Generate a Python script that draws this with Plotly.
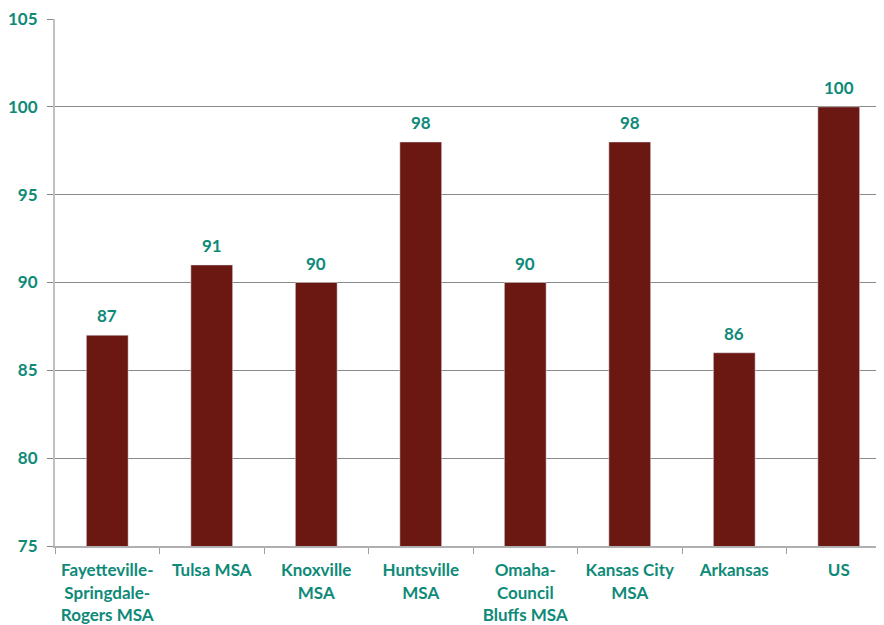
import plotly.graph_objects as go

categories = ["Fayetteville-<br>Springdale-<br>Rogers MSA", "Tulsa MSA", "Knoxville<br>MSA",
              "Huntsville<br>MSA", "Omaha-<br>Council<br>Bluffs MSA", "Kansas City<br>MSA",
              "Arkansas", "US"]
values = [87, 91, 90, 98, 90, 98, 86, 100]
y_ticks = [75, 80, 85, 90, 95, 100, 105]

teal = "#0e8a78"
bar_color = "#6b1712"
font_family = "Lato, 'Open Sans', sans-serif"

fig = go.Figure(go.Bar(
    x=categories, y=values, marker_color=bar_color,
    cliponaxis=False,
))

for c, v in zip(categories, values):
    fig.add_annotation(
        x=c, y=v, text=str(v), showarrow=False, yanchor="bottom", yshift=7,
        font=dict(color=teal, size=17, family=font_family, weight="bold"),
    )

fig.update_layout(
    width=884, height=625,
    margin=dict(l=47, r=1, t=11, b=87),
    plot_bgcolor="white", paper_bgcolor="white",
    bargap=0.6,
    showlegend=False,
    font=dict(family=font_family, color=teal, size=17, weight="bold"),
    xaxis=dict(
        automargin=False,
        showline=True, linecolor="#b0b0b0", linewidth=2,
        ticks="outside", tickcolor="#a0a0a0", ticklen=6, tickwidth=1,
        tickson="boundaries",
        ticklabelstandoff=8,
        ticklabeloverflow="allow",
        tickfont=dict(color=teal, size=17, family=font_family, weight="bold"),
        showgrid=False,
    ),
    yaxis=dict(
        automargin=False,
        range=[75, 105], tickvals=y_ticks,
        showline=True, linecolor="#c0c0c0", linewidth=2,
        ticks="outside", tickcolor="#888888", ticklen=6, tickwidth=1,
        ticklabelstandoff=6,
        ticklabeloverflow="allow",
        showgrid=True, gridcolor="#8a8a8a", gridwidth=1,
        zeroline=False,
        tickfont=dict(color=teal, size=17, family=font_family, weight="bold"),
    ),
)

fig.write_html("out.html")
